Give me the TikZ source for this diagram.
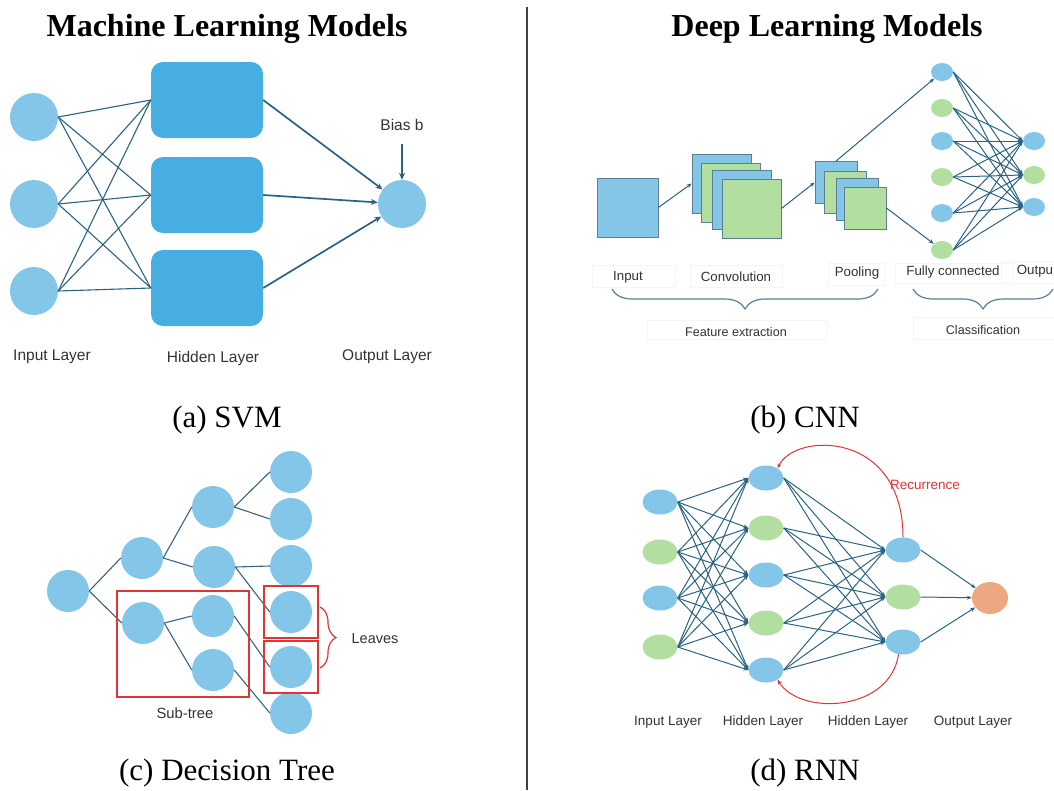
\documentclass[tikz,border=0pt]{standalone}
\usepackage{fontspec}
\setmainfont{Liberation Serif}
\newfontfamily\labfont{Liberation Sans}
\usetikzlibrary{shapes.geometric,arrows.meta,decorations.pathreplacing}
\definecolor{lblue}{HTML}{84C6E8}
\definecolor{dblue}{HTML}{46AEE0}
\definecolor{lgreen}{HTML}{B2DE9F}
\definecolor{orng}{HTML}{EEA881}
\definecolor{edgec}{HTML}{2A6482}
\definecolor{treec}{HTML}{3A6480}
\definecolor{redc}{HTML}{DE3535}
\definecolor{txt}{HTML}{333333}
\definecolor{sqb}{HTML}{5E7E92}
\begin{document}
\begin{tikzpicture}[x=1pt,y=-1pt,
  ttl/.style={font=\fontsize{32}{38}\selectfont\bfseries, anchor=base, inner sep=0},
  captxt/.style={font=\fontsize{31}{37}\selectfont, anchor=base, inner sep=0},
  lbl/.style={font=\labfont\fontsize{15.5}{18}\selectfont, text=txt, inner sep=0},
  slbl/.style={font=\labfont\fontsize{13.3}{16}\selectfont, text=txt, inner sep=0},
  circ/.style={circle, fill=lblue, minimum size=48pt, inner sep=0},
  tcirc/.style={circle, fill=lblue, minimum size=42pt, inner sep=0},
  hbox/.style={rectangle, rounded corners=12pt, fill=dblue, minimum width=112pt, minimum height=76pt, inner sep=0},
  sq/.style={rectangle, draw=sqb, line width=0.8pt, inner sep=0},
  ell/.style={ellipse, minimum width=22pt, minimum height=18pt, inner sep=0},
  rell/.style={ellipse, minimum width=35pt, minimum height=25pt, inner sep=0},
  nn/.style={draw=edgec, line width=1.1pt},
  nna/.style={draw=edgec, line width=1pt, -{Stealth[length=5pt,width=4pt]}},
  svmarr/.style={draw=edgec, line width=1.7pt, -{Stealth[length=7pt,width=6pt]}},
  tedge/.style={draw=treec, line width=1.1pt},
  redbox/.style={draw=redc, line width=1.2pt},
  fbox/.style={draw=black!4, line width=0.6pt},
  brc/.style={draw=sqb, line width=1.2pt, decorate, decoration={brace, amplitude=20pt}}
]
\useasboundingbox (0,0) rectangle (1054,790);
\fill[white] (0,0) rectangle (1054,790);

% divider
\draw[black!75, line width=1.6pt] (527,7) -- (527,790);

% titles
\node[ttl] (t1) at (227,36) {Machine Learning Models};
\node[ttl] (t2) at (827,36) {Deep Learning Models};

% ================= SVM =================
\node[circ] (i1) at (34,117) {};
\node[circ] (i2) at (34,204) {};
\node[circ] (i3) at (34,291) {};
\node[hbox] (h1) at (207,100) {};
\node[hbox] (h2) at (207,195) {};
\node[hbox] (h3) at (207,288) {};
\node[circ] (out) at (402,204) {};
\foreach \i in {1,2,3}{\foreach \j in {1,2,3}{\draw[nn] (i\i.east) -- (h\j.west);}}
\foreach \j in {1,2,3}{\draw[svmarr] (h\j.east) -- (out);}
\node[lbl] (bias) at (402,125) {Bias b};
\coordinate (biasb) at (402,144);
\draw[svmarr] (biasb) -- (out);
\node[lbl] (sl1) at (52,357) {Input Layer};
\node[lbl] (sl2) at (213,358) {Hidden Layer};
\node[lbl] (sl3) at (387,357) {Output Layer};
\node[captxt] (ca) at (227,427) {(a) SVM};

% ================= CNN =================
\node[sq, fill=lblue, minimum width=61pt, minimum height=59pt] (cin) at (627.5,207.5) {};
\node[sq, fill=lblue, minimum size=59pt] (c1) at (721.5,183.5) {};
\node[sq, fill=lgreen, minimum size=59pt] (c2) at (730.5,192.5) {};
\node[sq, fill=lblue, minimum size=59pt] (c3) at (742,199.5) {};
\node[sq, fill=lgreen, minimum size=59pt] (c4) at (751.5,208.5) {};
\node[sq, fill=lblue, minimum size=42pt] (p1) at (836,182.5) {};
\node[sq, fill=lgreen, minimum size=42pt] (p2) at (845,192) {};
\node[sq, fill=lblue, minimum size=42pt] (p3) at (857,199) {};
\node[sq, fill=lgreen, minimum size=42pt] (p4) at (865,208) {};
\draw[nna] (cin.east) -- (c1.west);
\draw[nna] (c4.east) -- (p1.west);
\foreach \y [count=\k] in {72,108,141,177,213,250}{
  \ifodd\k \node[ell, fill=lblue] (f\k) at (942,\y) {};
  \else \node[ell, fill=lgreen] (f\k) at (942,\y) {}; \fi}
\node[ell, fill=lblue] (o1) at (1034,141) {};
\node[ell, fill=lgreen] (o2) at (1034,175) {};
\node[ell, fill=lblue] (o3) at (1034,207) {};
\draw[nna] (p1.north) -- (f1);
\draw[nna] (p4.east) -- (f6);
\foreach \i in {1,...,6}{\foreach \j in {1,2,3}{\draw[nna] (f\i.east) -- (o\j.west);}}
% faint label boxes
\draw[fbox] (592,265) rectangle (675,287);
\draw[fbox] (690,265) rectangle (782,287);
\draw[fbox] (828,263) rectangle (884,285);
\draw[fbox] (895,263) rectangle (1012,283);
\draw[fbox] (1001,261) rectangle (1054,283);
\draw[fbox] (647,320) rectangle (827,339);
\draw[fbox] (913,317) rectangle (1054,339);
\node[slbl] (cl1) at (628,277) {Input};
\node[slbl] (cl2) at (736,277) {Convolution};
\node[slbl] (cl3) at (857,273) {Pooling};
\node[slbl] (cl4) at (953,272) {Fully connected};
\node[slbl] (cl5) at (1035,271) {Outpu};
\coordinate (b1a) at (612,289);
\coordinate (b1b) at (878,289);
\coordinate (b2a) at (913,289);
\coordinate (b2b) at (1053,289);
\draw[brc, decoration={mirror}] (b1a) -- (b1b);
\draw[brc, decoration={mirror}] (b2a) -- (b2b);
\node[slbl, font=\labfont\fontsize{12.6}{15}\selectfont] (fe) at (736,332) {Feature extraction};
\node[slbl, font=\labfont\fontsize{12.6}{15}\selectfont] (cls) at (983,330) {Classification};
\node[captxt] (cb) at (805,427) {(b) CNN};

% ================= Decision tree =================
\node[tcirc] (r) at (68,591) {};
\node[tcirc] (a1) at (142,558) {};
\node[tcirc] (a2) at (143,623) {};
\node[tcirc] (b1) at (213,507) {};
\node[tcirc] (b2) at (214,567) {};
\node[tcirc] (b3) at (213,616) {};
\node[tcirc] (b4) at (213,670) {};
\foreach \y [count=\k] in {472,519,566,612,667,713}{\node[tcirc] (l\k) at (291,\y) {};}
\draw[tedge] (r.east) -- (a1.west);
\draw[tedge] (r.east) -- (a2.west);
\draw[tedge] (a1.east) -- (b1.west);
\draw[tedge] (a1.east) -- (b2.west);
\draw[tedge] (a2.east) -- (b3.west);
\draw[tedge] (a2.east) -- (b4.west);
\draw[tedge] (b1.east) -- (l1.west);
\draw[tedge] (b1.east) -- (l2.west);
\draw[tedge] (b2.east) -- (l3.west);
\draw[tedge] (b2.east) -- (l4.west);
\draw[tedge] (b3.east) -- (l5.west);
\draw[tedge] (b4.east) -- (l6.west);
\draw[redbox] (117,591) rectangle (249,697);
\draw[redbox] (264,586) rectangle (318,638);
\draw[redbox] (264,641) rectangle (318,693);
\coordinate (rb1) at (320,607);
\coordinate (rb2) at (320,668);
\draw[draw=redc, line width=1.2pt, decorate, decoration={brace, amplitude=16pt}] (rb1) -- (rb2);
\node[lbl, font=\labfont\fontsize{14.5}{17}\selectfont] (lv) at (375,639) {Leaves};
\node[lbl, font=\labfont\fontsize{14.8}{17}\selectfont] (st) at (185,713) {Sub-tree};
\node[captxt] (cc) at (227,780) {(c) Decision Tree};

% ================= RNN =================
\foreach \y [count=\k] in {502,552,598,647}{
  \ifodd\k \node[rell, fill=lblue] (x\k) at (660,\y) {};
  \else \node[rell, fill=lgreen] (x\k) at (660,\y) {}; \fi}
\foreach \y [count=\k] in {478,528,575,623,670}{
  \ifodd\k \node[rell, fill=lblue] (u\k) at (766,\y) {};
  \else \node[rell, fill=lgreen] (u\k) at (766,\y) {}; \fi}
\node[rell, fill=lblue] (v1) at (903,550) {};
\node[rell, fill=lgreen] (v2) at (903,597) {};
\node[rell, fill=lblue] (v3) at (903,642) {};
\node[ellipse, fill=orng, minimum width=36pt, minimum height=32pt, inner sep=0] (y) at (990,598) {};
\foreach \i in {1,...,4}{\foreach \j in {1,...,5}{\draw[nna] (x\i.east) -- (u\j.west);}}
\foreach \i in {1,...,5}{\foreach \j in {1,2,3}{\draw[nna] (u\i.east) -- (v\j.west);}}
\foreach \j in {1,2,3}{\draw[nna] (v\j.east) -- (y);}
\draw[draw=redc, line width=1pt, -{Stealth[length=5pt,width=4pt]}] (v1.north) .. controls (903,430) and (795,432) .. (u1.40);
\draw[draw=redc, line width=1pt, -{Stealth[length=5pt,width=4pt]}] (v3.250) .. controls (890,712) and (800,716) .. (u5.-40);
\node[slbl, text=redc, font=\labfont\fontsize{13.5}{16}\selectfont] (rec) at (925,485) {Recurrence};
\node[slbl, font=\labfont\fontsize{13.5}{16}\selectfont] (rl1) at (668,722) {Input Layer};
\node[slbl, font=\labfont\fontsize{13.5}{16}\selectfont] (rl2) at (763,722) {Hidden Layer};
\node[slbl, font=\labfont\fontsize{13.5}{16}\selectfont] (rl3) at (868,722) {Hidden Layer};
\node[slbl, font=\labfont\fontsize{13.5}{16}\selectfont] (rl4) at (973,722) {Output Layer};
\node[captxt] (cd) at (805,780) {(d) RNN};
\end{tikzpicture}
\end{document}
